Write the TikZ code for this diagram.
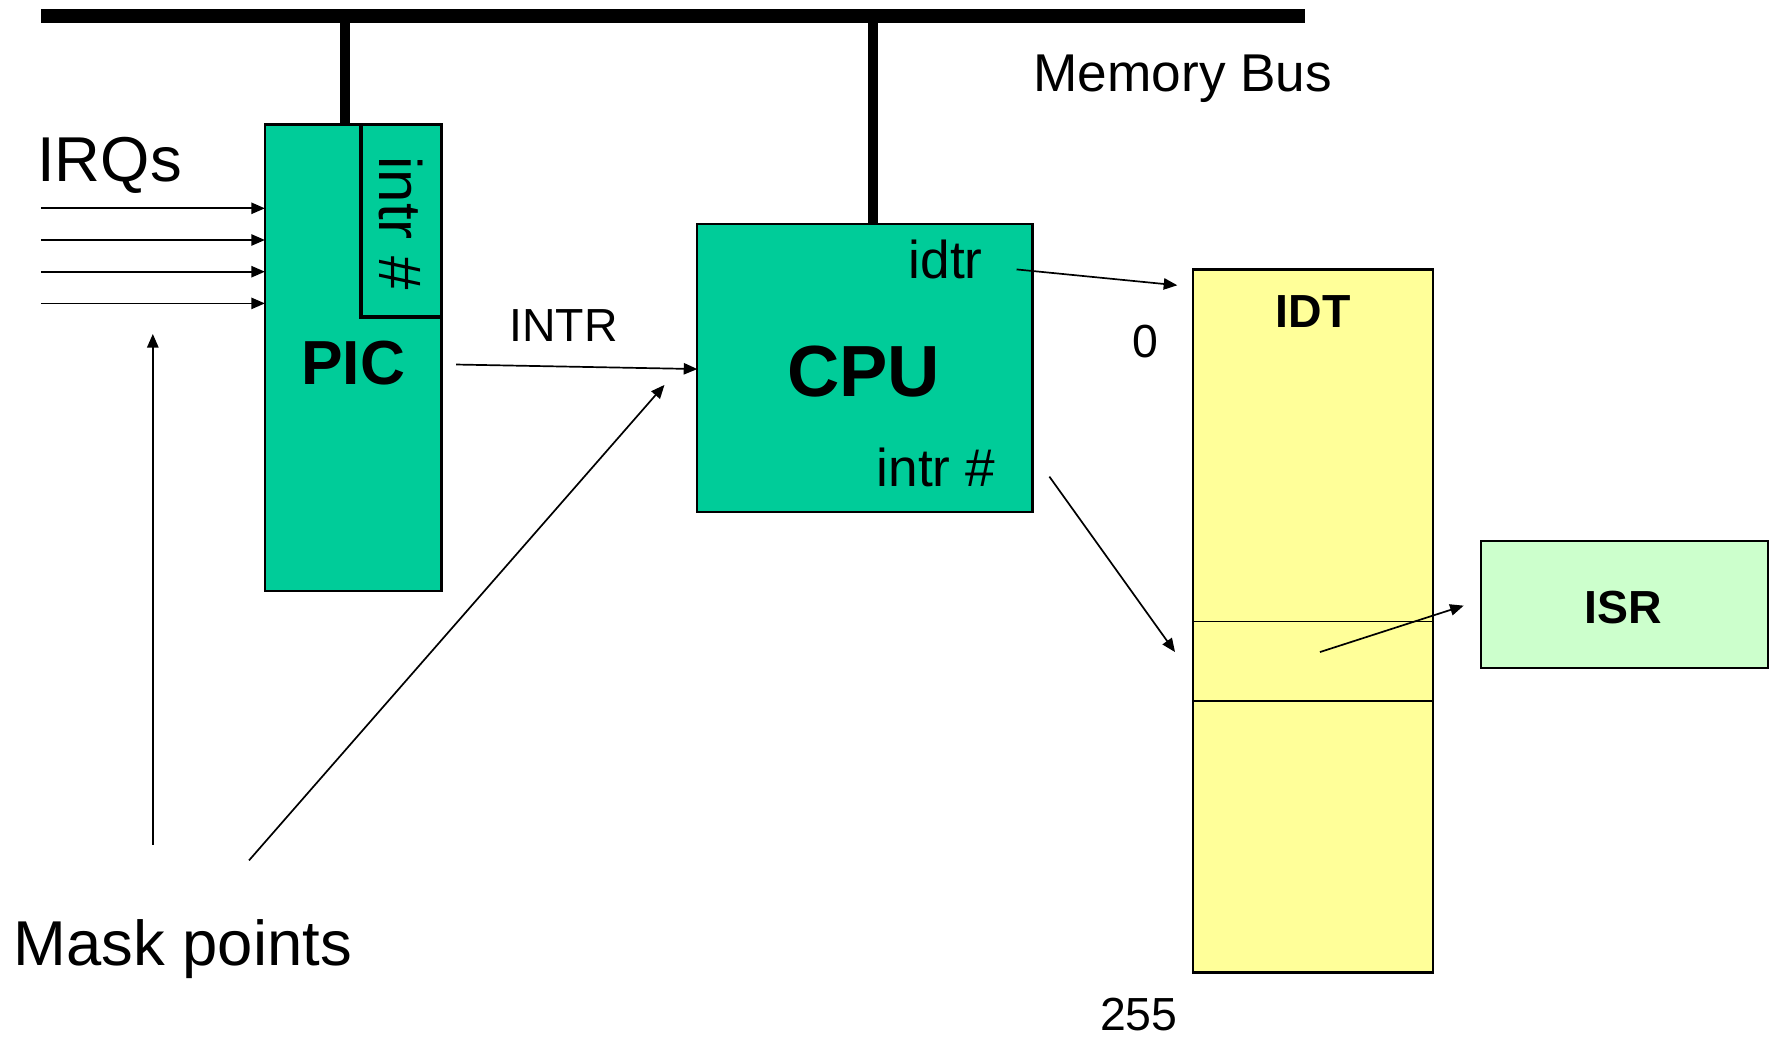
\documentclass[tikz,border=0pt]{standalone}
\usepackage{fontspec}
\setmainfont{Liberation Sans}
\usetikzlibrary{arrows.meta}
\definecolor{cgreen}{HTML}{00CC99}
\definecolor{cyellow}{HTML}{FFFF99}
\definecolor{clight}{HTML}{CCFFCC}
\tikzset{
  x=0.5pt, y=-0.5pt,
  box/.style={draw=black, line width=1pt, inner sep=0pt, outer sep=0pt, anchor=north west},
  conn/.style={line width=0.75pt, -{Triangle[length=6pt,width=5pt]}},
  busline/.style={line width=6pt},
  drop/.style={line width=4.5pt},
  txt/.style={inner sep=0pt, outer sep=0pt},
}
\begin{document}
\begin{tikzpicture}
\useasboundingbox (0,0) rectangle (1568,918);
% bus
\coordinate (busL) at (36,14);
\coordinate (busR) at (1153,14);
\draw[busline] (busL) -- (busR);
\coordinate (picTap) at (305,14);
\coordinate (cpuTap) at (771,14);
\coordinate (picTop) at (305,110);
\coordinate (cpuTop) at (771,198);
\draw[drop] (picTap) -- (picTop);
\draw[drop] (cpuTap) -- (cpuTop);
\node[txt, anchor=base west, font=\fontsize{23.5pt}{28pt}\selectfont] (membus) at (913,81) {Memory Bus};
% PIC
\node[box, fill=cgreen, minimum width=78pt, minimum height=206pt] (pic) at (234,110) {};
\node[box, fill=cgreen, line width=1.5pt, minimum width=35.5pt, minimum height=85pt] (picintr) at (319,110) {};
\node[txt, rotate=-90, font=\fontsize{26.5pt}{30pt}\selectfont] (picintrlbl) at (354,197) {intr \#};
\node[txt, anchor=base, font=\fontsize{27.5pt}{32pt}\selectfont\bfseries] (piclbl) at (312,340) {PIC};
% CPU
\node[box, fill=cgreen, minimum width=148pt, minimum height=127pt] (cpu) at (616,198) {};
\node[txt, anchor=base, font=\fontsize{32pt}{38pt}\selectfont\bfseries] (cpulbl) at (763,350) {CPU};
\node[txt, anchor=base east, font=\fontsize{23.5pt}{28pt}\selectfont] (idtr) at (868,246) {idtr};
\node[txt, anchor=base east, font=\fontsize{23.5pt}{28pt}\selectfont] (cpuintr) at (879,430) {intr \#};
% IDT
\node[box, fill=cyellow, minimum width=106pt, minimum height=310.5pt] (idt) at (1054,238) {};
\coordinate (rowAL) at (1054,549);
\coordinate (rowAR) at (1266,549);
\coordinate (rowBL) at (1054,619);
\coordinate (rowBR) at (1266,619);
\draw[line width=0.85pt] (rowAL) -- (rowAR);
\draw[line width=0.85pt] (rowBL) -- (rowBR);
\node[txt, anchor=base, font=\fontsize{20.5pt}{24pt}\selectfont\bfseries] (idtlbl) at (1160,289) {IDT};
\node[txt, anchor=base, font=\fontsize{20.5pt}{24pt}\selectfont] (zero) at (1012,316) {0};
\node[txt, anchor=base, font=\fontsize{20.5pt}{24pt}\selectfont] (last) at (1006,910) {255};
% ISR
\node[box, fill=clight, minimum width=127pt, minimum height=56pt] (isr) at (1308,478) {};
\node[txt, anchor=base, font=\fontsize{20.5pt}{24pt}\selectfont\bfseries] (isrlbl) at (1434,551) {ISR};
% IRQs
\node[txt, anchor=base west, font=\fontsize{28pt}{32pt}\selectfont] (irqs) at (33,160) {IRQs};
\foreach \i/\yy in {1/184,2/212,3/240,4/268}{
  \coordinate (irq\i) at (36,\yy);
  \coordinate (pin\i) at (234,\yy);
  \draw[conn] (irq\i) -- (pin\i);
}
% INTR
\node[txt, anchor=base west, font=\fontsize{20.5pt}{24pt}\selectfont] (intrlbl) at (450,302) {INTR};
\coordinate (intrS) at (403,322);
\coordinate (intrE) at (616,326);
\draw[conn] (intrS) -- (intrE);
% mask points
\node[txt, anchor=base west, font=\fontsize{28pt}{32pt}\selectfont] (mask) at (12,853) {Mask points};
\coordinate (m1S) at (135,746);
\coordinate (m1E) at (135,295);
\coordinate (m2S) at (220,760);
\coordinate (m2E) at (587,340);
\draw[conn] (m1S) -- (m1E);
\draw[conn] (m2S) -- (m2E);
% idtr -> IDT
\coordinate (idtrS) at (898,238);
\coordinate (idtrE) at (1040,252);
\draw[conn] (idtrS) -- (idtrE);
% intr# -> IDT entry
\coordinate (ientS) at (927,421);
\coordinate (ientE) at (1038,576);
\draw[conn] (ientS) -- (ientE);
% entry -> ISR
\coordinate (isrS) at (1166,576);
\coordinate (isrE) at (1293,535);
\draw[conn] (isrS) -- (isrE);
\end{tikzpicture}
\end{document}
